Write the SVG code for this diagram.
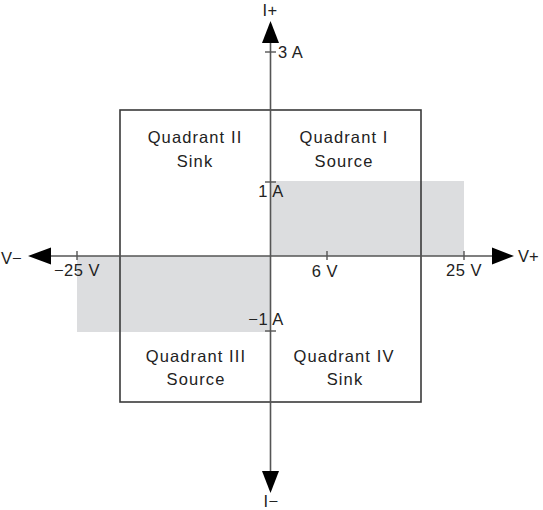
<svg xmlns="http://www.w3.org/2000/svg" width="543" height="510" viewBox="0 0 543 510">
<style>
text{font-family:"Liberation Sans",Arial,sans-serif;font-size:16.5px;fill:#222}
.q{text-anchor:middle;letter-spacing:1.1px}
.t{text-anchor:middle;letter-spacing:0.5px}
.ax{stroke:#555;stroke-width:1.6;fill:none}
.tick{stroke:#555;stroke-width:1.4}
.box{stroke:#3a3a3a;stroke-width:1.6;fill:none}
.shade{fill:#dcdddf}
.arrow{fill:#000}
</style>
<g id="shading">
<rect class="shade" x="270" y="181" width="194" height="75"/>
<rect class="shade" x="77" y="256" width="193" height="76"/>
</g>
<g id="box">
<rect class="box" x="120" y="110" width="301" height="292"/>
</g>
<g id="connectors">
<line class="ax" x1="50" y1="256" x2="494" y2="256"/>
<line class="ax" x1="270.5" y1="40" x2="270.5" y2="474"/>
<polygon class="arrow" points="28,256 51,247.5 51,264.5"/>
<polygon class="arrow" points="514,256 492,247.5 492,264.5"/>
<polygon class="arrow" points="270.5,21 262,43 279,43"/>
<polygon class="arrow" points="270.5,493 262,471 279,471"/>
<line class="tick" x1="77" y1="251" x2="77" y2="260"/>
<line class="tick" x1="327" y1="251" x2="327" y2="260"/>
<line class="tick" x1="464" y1="251" x2="464" y2="260"/>
<line class="tick" x1="265" y1="52" x2="276" y2="52"/>
<line class="tick" x1="265" y1="182" x2="276" y2="182"/>
<line class="tick" x1="265" y1="331" x2="276" y2="331"/>
</g>
<g id="quadrant-2"><text class="q" x="195" y="143">Quadrant II</text><text class="q" x="195" y="167">Sink</text></g>
<g id="quadrant-1"><text class="q" x="344" y="143">Quadrant I</text><text class="q" x="344" y="167">Source</text></g>
<g id="quadrant-3"><text class="q" x="196" y="362">Quadrant III</text><text class="q" x="196" y="385">Source</text></g>
<g id="quadrant-4"><text class="q" x="344" y="362">Quadrant IV</text><text class="q" x="345" y="385">Sink</text></g>
<g id="labels">
<text class="t" x="270" y="16">I+</text>
<text class="t" x="271" y="507">I−</text>
<text x="1" y="264">V−</text>
<text x="518" y="262">V+</text>
<text x="278" y="58" style="letter-spacing:0.5px">3 A</text>
<text class="t" x="271" y="197">1 A</text>
<text class="t" x="266" y="325">−1 A</text>
<text class="t" x="77" y="276">−25 V</text>
<text class="t" x="325" y="277">6 V</text>
<text class="t" x="464" y="276">25 V</text>
</g>
</svg>
